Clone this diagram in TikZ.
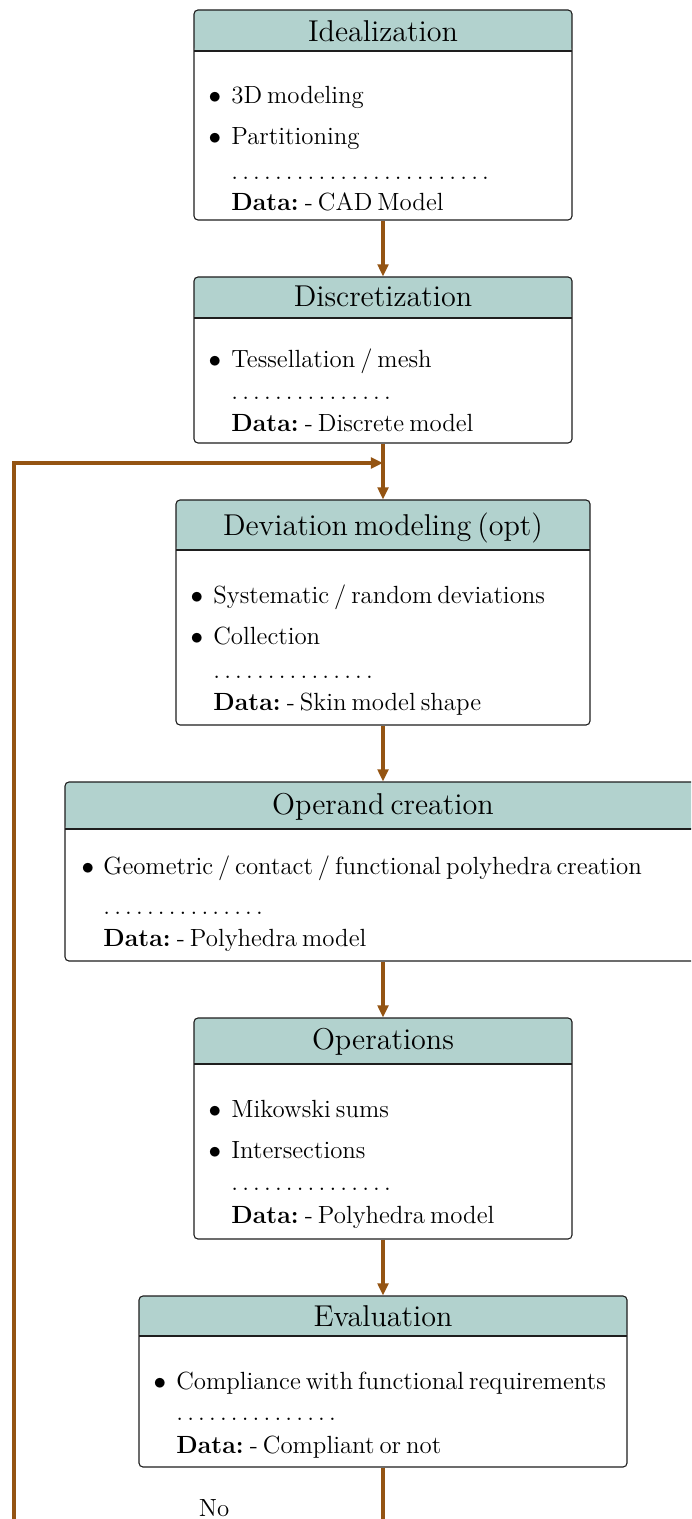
\documentclass[tikz,border=0pt]{standalone}
\usetikzlibrary{arrows.meta}

% one drawing unit
\def\px{0.478pt}
\definecolor{headfill}{RGB}{178,210,206}
\definecolor{flow}{RGB}{148,84,18}
\definecolor{rim}{RGB}{30,30,30}

% narrow interword spacing
\newcommand\tightsp{\spaceskip=.2em\relax\xspaceskip=.25em\relax}
% a row of n dots
\newcommand\dotrow[1]{\foreach\k in {1,...,#1}{.\kern.1667em}}

\tikzset{
  stagebox/.style={draw=rim, line width=0.52pt, rounded corners=1.9pt,
    fill=white, inner sep=0pt},
  head/.style={path picture={
      \fill[headfill] (path picture bounding box.north west) rectangle
        ([yshift={-(#1)*\px}]path picture bounding box.north east);
      \draw[rim, line width=0.52pt]
        ([yshift={-(#1)*\px}]path picture bounding box.north west) --
        ([yshift={-(#1)*\px}]path picture bounding box.north east);}},
  headtext/.style={font=\fontsize{14.4}{18}\selectfont\tightsp, anchor=base, inner sep=0pt},
  bodytext/.style={font=\fontsize{11.88}{14.5}\selectfont\tightsp, anchor=base west, inner sep=0pt},
  bul/.style={font=\fontsize{11.88}{14.5}\selectfont, anchor=base, inner sep=0pt},
  flowline/.style={draw=flow, line width=1.46pt},
  flowarrow/.style={flowline, -{Triangle[length=5.8pt,width=5.1pt]}},
}

% name, left, right, top, separator, bottom
\newcommand\stagenode[6]{%
  \node[stagebox, head={#5-#4}, minimum width={(#3-#2)*\px},
    minimum height={(#6-#4)*\px}] (#1) at ({(#2+#3)/2},{(#4+#6)/2}) {};}
% name, bullet x, text x, baseline, text
\newcommand\itemline[5]{%
  \node[bul] (#1b) at (#2,#4) {$\bullet$};
  \node[bodytext] (#1) at (#3,#4) {#5};}

\begin{document}
\begin{tikzpicture}[x=\px, y=-\px]
\useasboundingbox (0,0) rectangle (691,1519);
\fill[white] (0,0) rectangle (691,1519);
\begin{scope}
\clip (0,0) rectangle (691,1519);

% Idealization
\stagenode{idl}{194}{572}{10}{51}{220}
\node[headtext] (idlt) at (383,42) {Idealization};
\itemline{idla}{215}{231}{104}{3D modeling}
\itemline{idlb}{215}{231}{145}{Partitioning}
\node[bodytext] (idld) at (231,180) {\dotrow{24}};
\node[bodytext] (idle) at (231,211) {\textbf{Data:} - CAD Model};

% Discretization
\stagenode{dis}{194}{572}{277}{318}{443}
\node[headtext] (dist) at (383,307) {Discretization};
\itemline{disa}{215}{231}{368}{Tessellation / mesh}
\node[bodytext] (disd) at (231,400) {\dotrow{15}};
\node[bodytext] (dise) at (231,432) {\textbf{Data:} - Discrete model};

% Deviation modeling
\stagenode{dev}{176}{590}{500}{550}{725}
\node[headtext] (devt) at (383,536) {Deviation modeling (opt)};
\itemline{deva}{197}{213}{603}{Systematic / random deviations}
\itemline{devb}{197}{213}{644}{Collection}
\node[bodytext] (devd) at (213,678) {\dotrow{15}};
\node[bodytext] (deve) at (213,710) {\textbf{Data:} - Skin model shape};

% Operand creation
\stagenode{opc}{65}{701}{782}{829}{961}
\node[headtext] (opct) at (383,814) {Operand creation};
\itemline{opca}{88}{103}{874}{Geometric / contact / functional polyhedra creation}
\node[bodytext] (opcd) at (103,914) {\dotrow{15}};
\node[bodytext] (opce) at (103,946) {\textbf{Data:} - Polyhedra model};

% Operations
\stagenode{ops}{194}{572}{1018}{1064}{1239}
\node[headtext] (opst) at (383,1049) {Operations};
\itemline{opsa}{215}{231}{1117}{Mikowski sums}
\itemline{opsb}{215}{231}{1158}{Intersections}
\node[bodytext] (opsd) at (231,1190) {\dotrow{15}};
\node[bodytext] (opse) at (231,1223) {\textbf{Data:} - Polyhedra model};

% Evaluation
\stagenode{eva}{139}{627}{1296}{1336}{1467}
\node[headtext] (evat) at (383,1326) {Evaluation};
\itemline{evaa}{160}{176}{1389}{Compliance with functional requirements}
\node[bodytext] (evad) at (176,1420) {\dotrow{15}};
\node[bodytext] (evae) at (176,1453) {\textbf{Data:} - Compliant or not};

% connectors
\coordinate (join) at (383,463);
\coordinate (loop) at (14,1560);
\coordinate (out) at (383,1560);
\draw[flowarrow] (idl.south) -- (dis.north);
\draw[flowarrow] (dis.south) -- (dev.north);
\draw[flowarrow] (loop) |- (join);
\draw[flowarrow] (dev.south) -- (opc.north);
\draw[flowarrow] (opc.south) -- (ops.north);
\draw[flowarrow] (ops.south) -- (eva.north);
\draw[flowline] (eva.south) -- (out);
\node[bodytext, anchor=base] (no) at (214,1516) {No};
\end{scope}
\end{tikzpicture}
\end{document}
